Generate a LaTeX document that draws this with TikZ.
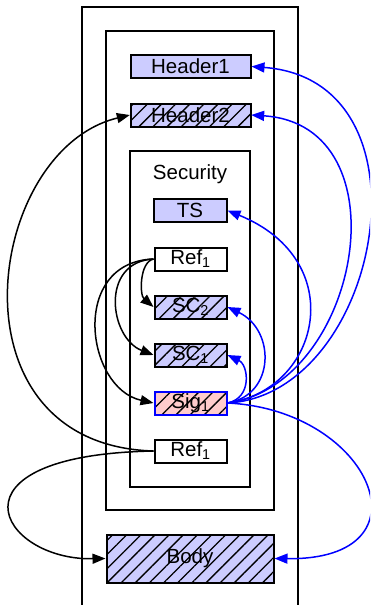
\documentclass[tikz,border=0pt]{standalone}
\usepackage{fontspec}
\setmainfont{Liberation Sans}
\usetikzlibrary{arrows.meta,patterns.meta}
\definecolor{lav}{RGB}{204,204,255}
\definecolor{pinkf}{RGB}{255,204,204}
\begin{document}
\begin{tikzpicture}[x=1pt,y=-1pt,
  txt/.style={font=\fontsize{20.5}{22}\selectfont},
  box/.style={txt,draw=black,line width=2pt,minimum height=23pt,inner sep=0pt},
  plainbox/.style={box,fill=lav},
  whitebox/.style={box,fill=white},
  hatchbox/.style={box,preaction={fill=#1},pattern={Lines[angle=45,distance=10pt,line width=1.3pt]},pattern color=black},
  hatchbox/.default=lav,
  cont/.style={draw=black,line width=1.8pt},
  blk/.style={draw=black,line width=1.5pt,-{Triangle[length=13pt,width=10pt]}},
  blu/.style={draw=blue,line width=1.5pt,-{Triangle[length=13pt,width=10pt]}}
]
\useasboundingbox (0,0) rectangle (370,605);
\clip (0,0) rectangle (370,605);
\fill[white] (0,0) rectangle (370,605);
% containers
\draw[cont] (82,7) rectangle (298,640);
\draw[cont] (106,31) rectangle (274,510);
\draw[cont] (130,151) rectangle (250,487);
% nodes
\node[plainbox,minimum width=120pt] (h1) at (190.5,66.5) {Header1};
\node[hatchbox,minimum width=120pt] (h2) at (190.5,115) {Header2};
\node[txt] (sec) at (190,174) {Security};
\node[plainbox,minimum width=73pt] (ts) at (190,210.5) {TS};
\node[whitebox,minimum width=72pt] (r1a) at (190.5,259) {Ref\textsubscript{1}};
\node[hatchbox,minimum width=72pt] (sc2) at (190.5,307) {SC\textsubscript{2}};
\node[hatchbox,minimum width=72pt] (sc1) at (190.5,355) {SC\textsubscript{1}};
\node[hatchbox=pinkf,draw=blue,minimum width=72pt] (sig) at (190.5,403) {Sig\textsubscript{1}};
\node[whitebox,minimum width=72pt] (r1b) at (190.5,451) {Ref\textsubscript{1}};
\node[hatchbox,minimum width=167pt,minimum height=48pt] (body) at (190,558.5) {Body};
% black connectors
\draw[blk] (r1b.west) .. controls +(-209,-6) and +(-145,35) .. (h2.west);
\draw[blk] (r1b.west) .. controls +(-214,4) and +(-106,2) .. (body.west);
\draw[blk] (r1a.west) .. controls +(-14,3) and +(-14,-12) .. (sc2.west);
\draw[blk] (r1a.west) .. controls +(-54,3) and +(-44,-17) .. (sc1.west);
\draw[blk] (r1a.west) .. controls +(-84,3) and +(-68,-15) .. (sig.west);
% blue connectors
\draw[blu] (sig.east) .. controls +(25,-5) and +(21,10) .. (sc1.east);
\draw[blu] (sig.east) .. controls +(48,-8) and +(48,23) .. (sc2.east);
\draw[blu] (sig.east) .. controls +(93,-13) and +(123,50) .. (ts.east);
\draw[blu] (sig.east) .. controls +(133,-18) and +(155,10) .. (h2.east);
\draw[blu] (sig.east) .. controls +(153,-8) and +(188,14) .. (h1.east);
\draw[blu] (sig.east) .. controls +(145,7) and +(160,2) .. (body.east);
\end{tikzpicture}
\end{document}
